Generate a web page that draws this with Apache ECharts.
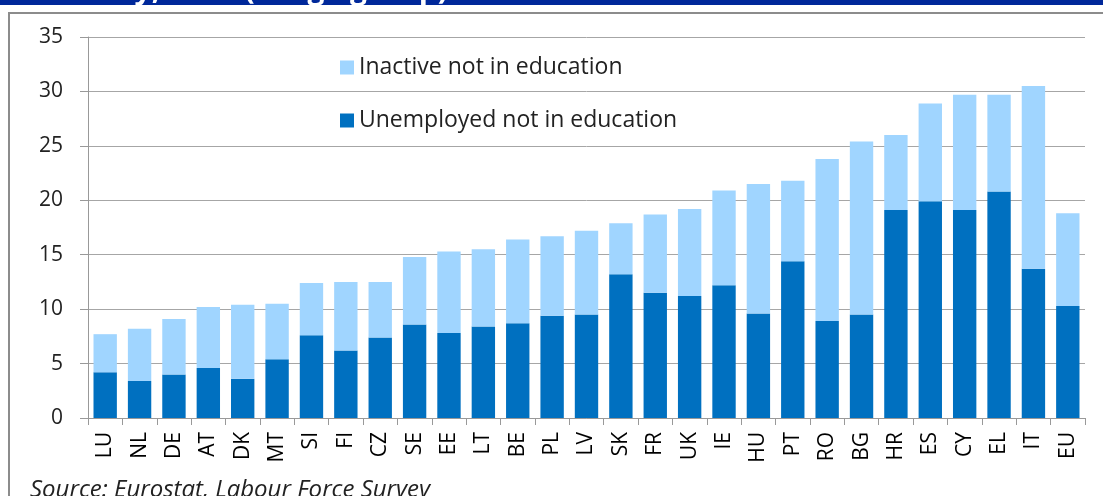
<!DOCTYPE html>
<html>
<head>
<meta charset="utf-8">
<script src="https://cdn.jsdelivr.net/npm/echarts@6/dist/echarts.min.js"></script>
<style>
html,body{margin:0;padding:0;background:#fff;}
#chart{width:1103px;height:496px;}
</style>
</head>
<body>
<div id="chart"></div>
<script>
var categories = ['LU','NL','DE','AT','DK','MT','SI','FI','CZ','SE','EE','LT','BE','PL','LV','SK','FR','UK','IE','HU','PT','RO','BG','HR','ES','CY','EL','IT','EU'];
var unemployed = [4.2,3.4,4.0,4.6,3.6,5.4,7.6,6.2,7.4,8.6,7.8,8.4,8.7,9.4,9.5,13.2,11.5,11.2,12.2,9.6,14.4,8.9,9.5,19.1,19.9,19.1,20.8,13.7,10.3];
var inactive   = [3.5,4.8,5.1,5.6,6.8,5.1,4.8,6.3,5.1,6.2,7.5,7.1,7.7,7.3,7.7,4.7,7.2,8.0,8.7,11.9,7.4,14.9,15.9,6.9,9.0,10.6,8.9,16.8,8.5];
var yTicks = [0,5,10,15,20,25,30,35];
var seriesNames = ['Inactive not in education','Unemployed not in education'];
var titleText = 'Inactivity, 2013 (% age group)';
var sourceText = 'Source: Eurostat, Labour Force Survey';

var chart = echarts.init(document.getElementById('chart'), null, {renderer:'canvas'});
var font = '"Open Sans", "Noto Sans", sans-serif';
chart.setOption({
  animation: false,
  backgroundColor: '#fff',
  graphic: [
    {type:'rect', shape:{x:0,y:0,width:1103,height:5}, style:{fill:'#00289a'}, z:10},
    {type:'text', x:10, y:5, style:{text:titleText, fill:'#fff', font:'bold 30px "Open Sans", sans-serif', verticalAlign:'bottom'}, z:11},
    {type:'rect', shape:{x:9,y:13,width:1200,height:600}, style:{fill:'none', stroke:'#8c8c8c', lineWidth:2}, z:0},
    {type:'text', x:30, y:490, style:{text:sourceText, fill:'#222', font:'italic 24px "Open Sans", sans-serif', verticalAlign:'middle'}, z:5}
  ],
  legend: {
    orient:'vertical', left:340, top:56, padding:0,
    itemWidth:14, itemHeight:14, itemGap:30,
    icon:'rect',
    data: seriesNames,
    textStyle:{fontFamily:font, fontSize:23, color:'#222', lineHeight:23}
  },
  grid: {left:88, right:18, top:37, bottom:78, containLabel:false},
  xAxis: {
    type:'category', data: categories,
    axisLine:{lineStyle:{color:'#999', width:1}},
    axisTick:{show:true, length:7, alignWithLabel:false, lineStyle:{color:'#999'}},
    axisLabel:{rotate:90, interval:0, margin:14, fontFamily:font, fontSize:21, color:'#000'}
  },
  yAxis: {
    type:'value', min:0, max:35, interval:5,
    axisLine:{show:true, lineStyle:{color:'#999', width:1}},
    axisTick:{show:true, inside:false, length:8, lineStyle:{color:'#999'}},
    splitLine:{show:true, lineStyle:{color:'#a6a6a6', width:1}},
    axisLabel:{margin:25, fontFamily:font, fontSize:21, color:'#222',
      formatter:function(v){return yTicks.indexOf(v)>=0 ? String(v) : '';}}
  },
  series: [
    {name:seriesNames[1], type:'bar', stack:'t', data:unemployed, barCategoryGap:'32%',
      itemStyle:{color:'#0070c0'}},
    {name:seriesNames[0], type:'bar', stack:'t', data:inactive, barCategoryGap:'32%',
      itemStyle:{color:'#a0d5ff'}}
  ]
});
</script>
</body>
</html>
